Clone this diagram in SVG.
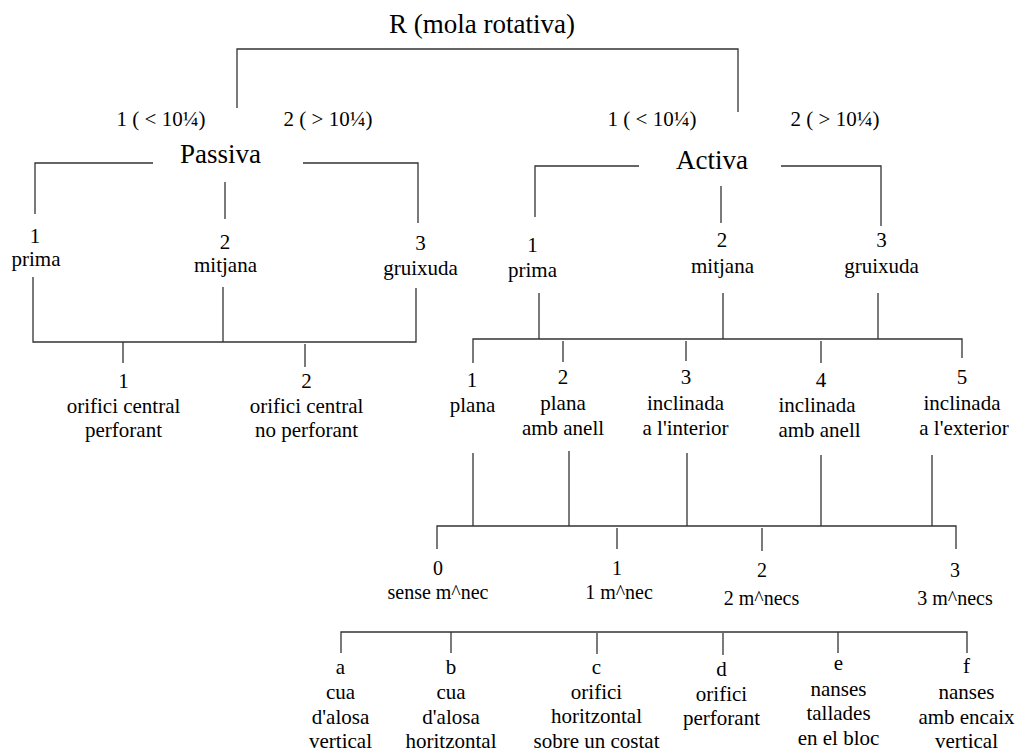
<svg xmlns="http://www.w3.org/2000/svg" width="1020" height="754" viewBox="0 0 1020 754">
<style>
text{font-family:"Liberation Serif","Times New Roman",serif;fill:#000;text-anchor:middle}
.t{font-size:21px}
.h{font-size:27px}
.s{font-size:20px}
#connectors path{fill:none;stroke:#333;stroke-width:1.3}
</style>
<rect width="1020" height="754" fill="#fff"/>
<g id="connectors">
<path d="M237,108 V49 H738 V112"/>
<path d="M153,163 H35 V214"/>
<path d="M303,163 H418 V223"/>
<path d="M225,182 V219"/>
<path d="M639,166 H535 V217"/>
<path d="M781,166 H881 V226"/>
<path d="M721,186 V223"/>
<path d="M33,277 V342 H416 V288"/>
<path d="M223,287 V342"/>
<path d="M123,342 V363"/>
<path d="M305,344 V367"/>
<path d="M539,293 V339"/>
<path d="M723,293 V339"/>
<path d="M878,293 V339"/>
<path d="M473,363 V339 H962 V358"/>
<path d="M563,341 V362"/>
<path d="M686,341 V361"/>
<path d="M821,341 V363"/>
<path d="M473,453 V526"/>
<path d="M569,451 V526"/>
<path d="M687,453 V526"/>
<path d="M821,455 V526"/>
<path d="M932,455 V526"/>
<path d="M437,549 V526 H956 V549"/>
<path d="M617,528 V549"/>
<path d="M762,528 V551"/>
<path d="M341,653 V632 H967 V653"/>
<path d="M451,632 V653"/>
<path d="M597,633 V654"/>
<path d="M723,633 V655"/>
<path d="M838,632 V653"/>
</g>
<g id="root"><text class="h" x="482" y="33">R (mola rotativa)</text></g>
<g id="lbl-p1"><text class="t" x="161" y="126">1 ( &lt; 10¼)</text></g>
<g id="lbl-p2"><text class="t" x="328" y="126">2 ( &gt; 10¼)</text></g>
<g id="lbl-a1"><text class="t" x="652" y="126">1 ( &lt; 10¼)</text></g>
<g id="lbl-a2"><text class="t" x="835" y="126">2 ( &gt; 10¼)</text></g>
<g id="passiva"><text class="h" x="220.5" y="163">Passiva</text></g>
<g id="activa"><text class="h" x="712" y="169">Activa</text></g>
<g id="p-prima"><text class="t" x="35" y="243">1</text><text class="t" x="36" y="266">prima</text></g>
<g id="p-mitjana"><text class="t" x="225" y="249">2</text><text class="t" x="225.5" y="272">mitjana</text></g>
<g id="p-gruixuda"><text class="t" x="420.5" y="250">3</text><text class="t" x="420.5" y="275">gruixuda</text></g>
<g id="p-orifici1"><text class="t" x="123.5" y="388">1</text><text class="t" x="123.5" y="413">orifici central</text><text class="t" x="123.5" y="437">perforant</text></g>
<g id="p-orifici2"><text class="t" x="306.5" y="388">2</text><text class="t" x="306.5" y="413">orifici central</text><text class="t" x="306.5" y="437">no perforant</text></g>
<g id="a-prima"><text class="t" x="532.5" y="252">1</text><text class="t" x="532.5" y="277">prima</text></g>
<g id="a-mitjana"><text class="t" x="722" y="247">2</text><text class="t" x="722.5" y="273">mitjana</text></g>
<g id="a-gruixuda"><text class="t" x="881.5" y="247">3</text><text class="t" x="881.5" y="273">gruixuda</text></g>
<g id="f-plana"><text class="t" x="472" y="387">1</text><text class="t" x="472.5" y="412">plana</text></g>
<g id="f-plana-anell"><text class="t" x="563" y="384">2</text><text class="t" x="563" y="410">plana</text><text class="t" x="563" y="435">amb anell</text></g>
<g id="f-incl-int"><text class="t" x="686" y="384">3</text><text class="t" x="685.5" y="410">inclinada</text><text class="t" x="685.5" y="435">a l'interior</text></g>
<g id="f-incl-anell"><text class="t" x="821" y="387">4</text><text class="t" x="817" y="412">inclinada</text><text class="t" x="819.5" y="437">amb anell</text></g>
<g id="f-incl-ext"><text class="t" x="962" y="384">5</text><text class="t" x="962" y="410">inclinada</text><text class="t" x="964" y="435">a l'exterior</text></g>
<g id="m0"><text class="s" x="438" y="575">0</text><text class="s" x="438" y="599">sense m^nec</text></g>
<g id="m1"><text class="s" x="617" y="575">1</text><text class="s" x="619" y="599">1 m^nec</text></g>
<g id="m2"><text class="s" x="762" y="577">2</text><text class="s" x="761.5" y="605">2 m^necs</text></g>
<g id="m3"><text class="s" x="955" y="577">3</text><text class="s" x="955" y="605">3 m^necs</text></g>
<g id="s-a"><text class="t" x="340.5" y="674">a</text><text class="t" x="340.5" y="699">cua</text><text class="t" x="340.5" y="724">d'alosa</text><text class="t" x="340.5" y="748">vertical</text></g>
<g id="s-b"><text class="t" x="451" y="674">b</text><text class="t" x="451" y="699">cua</text><text class="t" x="451" y="724">d'alosa</text><text class="t" x="451" y="748">horitzontal</text></g>
<g id="s-c"><text class="t" x="596.5" y="674">c</text><text class="t" x="596.5" y="699">orifici</text><text class="t" x="596.5" y="723">horitzontal</text><text class="t" x="596.5" y="748">sobre un costat</text></g>
<g id="s-d"><text class="t" x="721.5" y="676">d</text><text class="t" x="721.5" y="701">orifici</text><text class="t" x="721.5" y="725">perforant</text></g>
<g id="s-e"><text class="t" x="838.5" y="670">e</text><text class="t" x="838.5" y="696">nanses</text><text class="t" x="838.5" y="720">tallades</text><text class="t" x="838.5" y="745">en el bloc</text></g>
<g id="s-f"><text class="t" x="966.5" y="673">f</text><text class="t" x="966.5" y="699">nanses</text><text class="t" x="966.5" y="724">amb encaix</text><text class="t" x="966.5" y="748">vertical</text></g>
</svg>
